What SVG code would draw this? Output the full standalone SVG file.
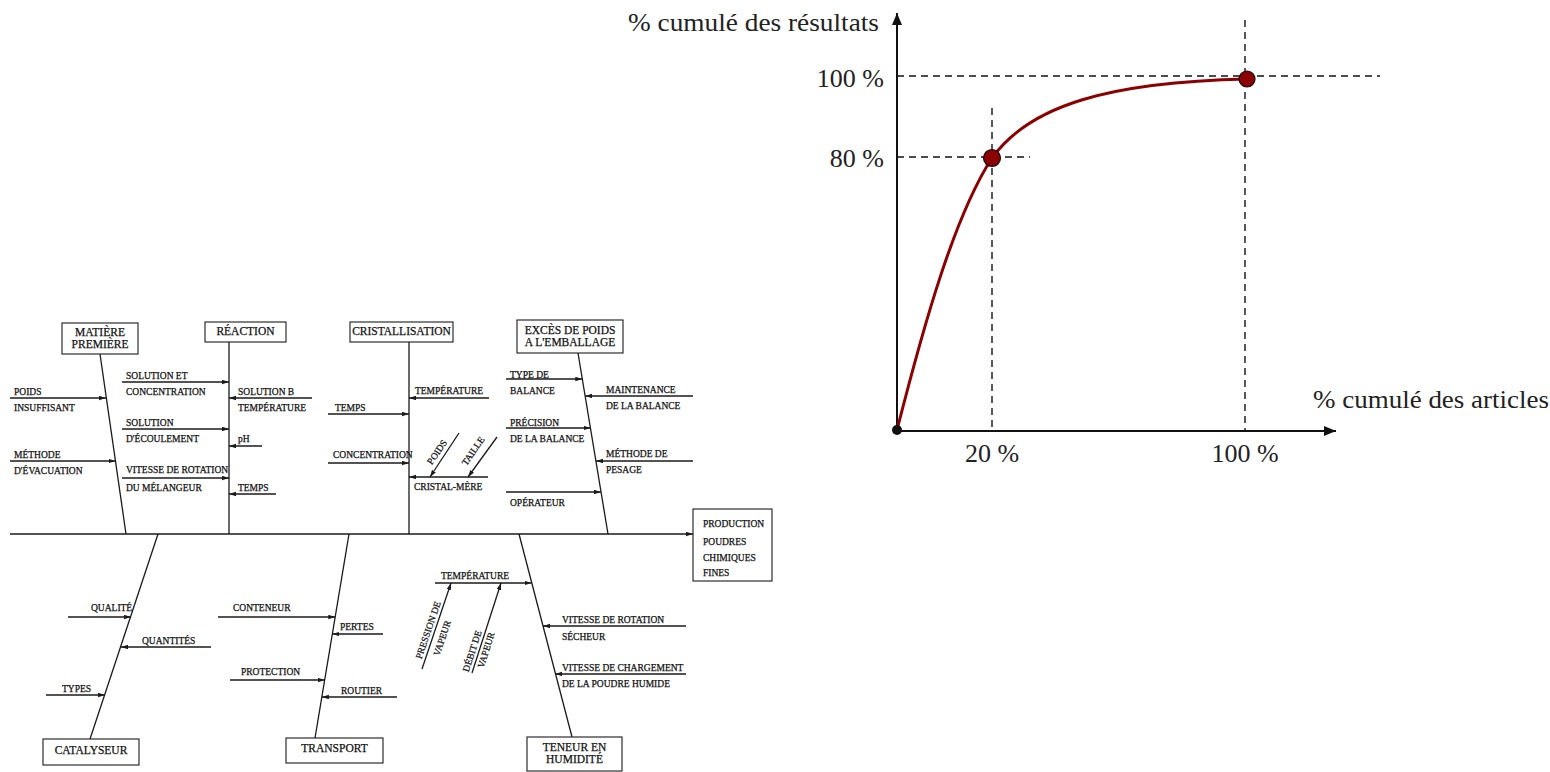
<svg xmlns="http://www.w3.org/2000/svg" width="1550" height="772" viewBox="0 0 1550 772">
<style>
.ln{stroke:#1a1a1a;stroke-width:1.3;fill:none}
.box{fill:#fff;stroke:#1a1a1a;stroke-width:1.1}
.bt{font-family:"Liberation Serif","Times New Roman",serif;font-size:11.5px;fill:#111;stroke:#111;stroke-width:0.25;text-anchor:middle}
.ct{font-family:"Liberation Serif","Times New Roman",serif;font-size:9.5px;fill:#111;stroke:#111;stroke-width:0.25}
.rt{font-family:"Liberation Serif","Times New Roman",serif;font-size:9.5px;fill:#111;stroke:#111;stroke-width:0.25;text-anchor:middle}
.ax{stroke:#111;stroke-width:2;fill:none}
.da{stroke:#111;stroke-width:1.4;fill:none;stroke-dasharray:7 5}
.gt{font-family:"Liberation Serif","Times New Roman",serif;font-size:26px;fill:#222}
.pt{fill:#8b0000;stroke:#111;stroke-width:1.2}
</style>
<defs>
<marker id="ah" markerUnits="userSpaceOnUse" markerWidth="8" markerHeight="5" refX="7" refY="2.25" orient="auto"><path d="M0,0 L7,2.25 L0,4.5 z" fill="#1a1a1a"/></marker>
<marker id="ahb" markerUnits="userSpaceOnUse" markerWidth="13" markerHeight="11" refX="12" refY="5" orient="auto"><path d="M0,0 L12,5 L0,10 z" fill="#111"/></marker>
</defs>
<rect width="1550" height="772" fill="#fff"/>

<g id="connectors">
<line class="ln" x1="10" y1="534" x2="693" y2="534" marker-end="url(#ah)"/>
<line class="ln" x1="100" y1="354" x2="126" y2="534"/>
<line class="ln" x1="229" y1="342" x2="229" y2="534"/>
<line class="ln" x1="409" y1="342" x2="409" y2="534"/>
<line class="ln" x1="578" y1="353" x2="608" y2="534"/>
<line class="ln" x1="158" y1="534" x2="90" y2="739"/>
<line class="ln" x1="349" y1="534" x2="315" y2="738"/>
<line class="ln" x1="519" y1="534" x2="572" y2="737"/>
<line class="ln" x1="10" y1="398" x2="106" y2="398" marker-end="url(#ah)"/>
<line class="ln" x1="10" y1="461" x2="115.5" y2="461" marker-end="url(#ah)"/>
<line class="ln" x1="122" y1="382" x2="229" y2="382" marker-end="url(#ah)"/>
<line class="ln" x1="122" y1="429" x2="229" y2="429" marker-end="url(#ah)"/>
<line class="ln" x1="122" y1="478" x2="229" y2="478" marker-end="url(#ah)"/>
<line class="ln" x1="312" y1="398" x2="229" y2="398" marker-end="url(#ah)"/>
<line class="ln" x1="262" y1="446" x2="229" y2="446" marker-end="url(#ah)"/>
<line class="ln" x1="276" y1="494" x2="229" y2="494" marker-end="url(#ah)"/>
<line class="ln" x1="489" y1="398" x2="409" y2="398" marker-end="url(#ah)"/>
<line class="ln" x1="328" y1="414" x2="409" y2="414" marker-end="url(#ah)"/>
<line class="ln" x1="328" y1="463" x2="409" y2="463" marker-end="url(#ah)"/>
<line class="ln" x1="488" y1="477" x2="409" y2="477" marker-end="url(#ah)"/>
<line class="ln" x1="459" y1="433" x2="430" y2="477" marker-end="url(#ah)"/>
<line class="ln" x1="497" y1="437" x2="468" y2="477" marker-end="url(#ah)"/>
<line class="ln" x1="506" y1="379" x2="582.3" y2="379" marker-end="url(#ah)"/>
<line class="ln" x1="693" y1="396" x2="585.2" y2="396" marker-end="url(#ah)"/>
<line class="ln" x1="506" y1="428" x2="590.5" y2="428" marker-end="url(#ah)"/>
<line class="ln" x1="693" y1="461" x2="596" y2="461" marker-end="url(#ah)"/>
<line class="ln" x1="506" y1="492" x2="601" y2="492" marker-end="url(#ah)"/>
<line class="ln" x1="68" y1="617" x2="131" y2="617" marker-end="url(#ah)"/>
<line class="ln" x1="211" y1="647" x2="121" y2="647" marker-end="url(#ah)"/>
<line class="ln" x1="46" y1="695" x2="105" y2="695" marker-end="url(#ah)"/>
<line class="ln" x1="218" y1="617" x2="335.3" y2="617" marker-end="url(#ah)"/>
<line class="ln" x1="383" y1="634" x2="332.4" y2="634" marker-end="url(#ah)"/>
<line class="ln" x1="230" y1="680" x2="324.7" y2="680" marker-end="url(#ah)"/>
<line class="ln" x1="397" y1="697" x2="321.9" y2="697" marker-end="url(#ah)"/>
<line class="ln" x1="435" y1="583" x2="531.5" y2="583" marker-end="url(#ah)"/>
<line class="ln" x1="422" y1="669" x2="451" y2="583" marker-end="url(#ah)"/>
<line class="ln" x1="472" y1="673" x2="501" y2="583" marker-end="url(#ah)"/>
<line class="ln" x1="686" y1="626" x2="543" y2="626" marker-end="url(#ah)"/>
<line class="ln" x1="686" y1="674" x2="555.3" y2="674" marker-end="url(#ah)"/>
</g>

<g id="node-matiere">
<rect class="box" x="62" y="323" width="76" height="31"/>
<text class="bt" x="100" y="336">MATIÈRE</text>
<text class="bt" x="100" y="348">PREMIÈRE</text>
<text class="ct" x="14" y="394.5">POIDS</text>
<text class="ct" x="14" y="410.5">INSUFFISANT</text>
<text class="ct" x="14" y="457.5">MÉTHODE</text>
<text class="ct" x="14" y="473.5">D'ÉVACUATION</text>
</g>

<g id="node-reaction">
<rect class="box" x="205" y="322" width="81" height="20"/>
<text class="bt" x="245.5" y="335">RÉACTION</text>
<text class="ct" x="126" y="378.5">SOLUTION ET</text>
<text class="ct" x="126" y="394.5">CONCENTRATION</text>
<text class="ct" x="126" y="425.5">SOLUTION</text>
<text class="ct" x="126" y="441.5">D'ÉCOULEMENT</text>
<text class="ct" x="126" y="472.5">VITESSE DE ROTATION</text>
<text class="ct" x="126" y="490.5">DU MÉLANGEUR</text>
<text class="ct" x="238" y="394.5">SOLUTION B</text>
<text class="ct" x="238" y="410.5">TEMPÉRATURE</text>
<text class="ct" x="238" y="442">pH</text>
<text class="ct" x="238" y="490.5">TEMPS</text>
</g>

<g id="node-cristallisation">
<rect class="box" x="350" y="322" width="103" height="20"/>
<text class="bt" x="401.5" y="335">CRISTALLISATION</text>
<text class="ct" x="415" y="394">TEMPÉRATURE</text>
<text class="ct" x="335" y="410.5">TEMPS</text>
<text class="ct" x="333" y="457.5">CONCENTRATION</text>
<text class="ct" x="414" y="490">CRISTAL-MÈRE</text>
<text class="rt" transform="translate(437,452) rotate(-55)" y="3.3">POIDS</text>
<text class="rt" transform="translate(473,451) rotate(-55)" y="3.3">TAILLE</text>
</g>

<g id="node-exces">
<rect class="box" x="517" y="320" width="106" height="33"/>
<text class="bt" x="570" y="334">EXCÈS DE POIDS</text>
<text class="bt" x="570" y="345.5">A L'EMBALLAGE</text>
<text class="ct" x="510" y="377.5">TYPE DE</text>
<text class="ct" x="510" y="393.5">BALANCE</text>
<text class="ct" x="606" y="392.5">MAINTENANCE</text>
<text class="ct" x="606" y="408.5">DE LA BALANCE</text>
<text class="ct" x="510" y="425.5">PRÉCISION</text>
<text class="ct" x="510" y="441.5">DE LA BALANCE</text>
<text class="ct" x="606" y="456.5">MÉTHODE DE</text>
<text class="ct" x="606" y="472.5">PESAGE</text>
<text class="ct" x="510" y="505.5">OPÉRATEUR</text>
</g>

<g id="node-catalyseur">
<rect class="box" x="43" y="739" width="96" height="26"/>
<text class="bt" x="91" y="753.5">CATALYSEUR</text>
<text class="ct" x="91" y="611">QUALITÉ</text>
<text class="ct" x="142" y="643.5">QUANTITÉS</text>
<text class="ct" x="62" y="691.5">TYPES</text>
</g>

<g id="node-transport">
<rect class="box" x="286" y="738" width="97" height="25"/>
<text class="bt" x="334.5" y="752">TRANSPORT</text>
<text class="ct" x="233" y="611">CONTENEUR</text>
<text class="ct" x="340" y="629.5">PERTES</text>
<text class="ct" x="241" y="674.5">PROTECTION</text>
<text class="ct" x="341" y="693.5">ROUTIER</text>
</g>

<g id="node-teneur">
<rect class="box" x="527" y="737" width="95" height="34"/>
<text class="bt" x="574.5" y="751">TENEUR EN</text>
<text class="bt" x="574.5" y="762.5">HUMIDITÉ</text>
<text class="ct" x="441" y="578.5">TEMPÉRATURE</text>
<text class="rt" transform="translate(428,630) rotate(-71)" y="3.3">PRESSION DE</text>
<text class="rt" transform="translate(442,638) rotate(-71)" y="3.3">VAPEUR</text>
<text class="rt" transform="translate(472,651) rotate(-72)" y="3.3">DÉBIT DE</text>
<text class="rt" transform="translate(486,650) rotate(-72)" y="3.3">VAPEUR</text>
<text class="ct" x="562" y="622.5">VITESSE DE ROTATION</text>
<text class="ct" x="562" y="639.5">SÉCHEUR</text>
<text class="ct" x="562" y="670.5">VITESSE DE CHARGEMENT</text>
<text class="ct" x="562" y="686.5">DE LA POUDRE HUMIDE</text>
</g>

<g id="node-production">
<rect class="box" x="693" y="509" width="79" height="72"/>
<text class="ct" x="703" y="527">PRODUCTION</text>
<text class="ct" x="703" y="545">POUDRES</text>
<text class="ct" x="703" y="561">CHIMIQUES</text>
<text class="ct" x="703" y="576">FINES</text>
</g>

<g id="pareto-chart">
<line class="da" x1="897" y1="76" x2="1380" y2="76"/>
<line class="da" x1="897" y1="157" x2="1030" y2="157"/>
<line class="da" x1="992" y1="108" x2="992" y2="430"/>
<line class="da" x1="1245" y1="20" x2="1245" y2="430"/>
<line class="ax" x1="897" y1="430" x2="897" y2="13" marker-end="url(#ahb)"/>
<line class="ax" x1="897" y1="431" x2="1336" y2="431" marker-end="url(#ahb)"/>
<path d="M897,430 C925,320 955,215 992,158 C1030,105 1110,82 1247,79" fill="none" stroke="#8b0000" stroke-width="3"/>
<circle class="pt" cx="992" cy="158" r="8.5"/>
<circle class="pt" cx="1247" cy="79" r="8"/>
<circle cx="897" cy="430" r="5" fill="#111"/>
<text class="gt" x="628" y="31" textLength="251" lengthAdjust="spacingAndGlyphs">% cumulé des résultats</text>
<text class="gt" x="884" y="87" text-anchor="end">100 %</text>
<text class="gt" x="884" y="167" text-anchor="end">80 %</text>
<text class="gt" x="992" y="462" text-anchor="middle">20 %</text>
<text class="gt" x="1245" y="462" text-anchor="middle">100 %</text>
<text class="gt" x="1313" y="408" textLength="236" lengthAdjust="spacingAndGlyphs">% cumulé des articles</text>
</g>
</svg>
